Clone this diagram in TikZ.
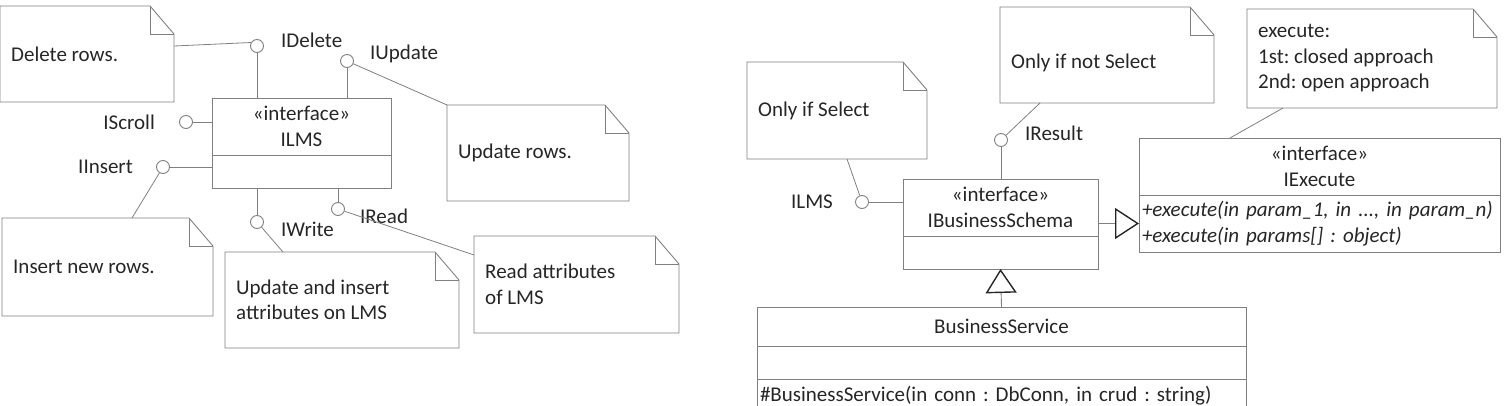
\documentclass[tikz,border=0pt]{standalone}
\usepackage{fontspec}
\setmainfont{Carlito}
\frenchspacing
\usetikzlibrary{arrows.meta, positioning}
\definecolor{umlline}{gray}{0.5}
\definecolor{umltext}{gray}{0.15}
\tikzset{
  classhead/.style = {draw=umlline, align=center, inner sep=0pt, outer sep=0pt,
                      minimum height=57pt, line width=0.9pt},
  compart/.style   = {draw=umlline, inner sep=0pt, outer sep=0pt,
                      minimum height=33pt, line width=0.9pt},
  opslist/.style   = {draw=umlline, align=left, inner sep=3pt, outer sep=0pt,
                      line width=0.9pt},
  lollipop/.style  = {draw=umlline, circle, minimum size=13pt, inner sep=0pt,
                      line width=0.9pt},
  iflabel/.style   = {inner sep=0pt},
  % notes: invisible body, outline drawn by \umlnote
  notebody/.style  = {inner sep=0pt, outer sep=0pt, anchor=north west},
  notetext/.style  = {inner sep=0pt, anchor=west, align=left},
  noteline/.style  = {draw=umlline, line width=0.9pt},
  link/.style      = {-, line width=0.8pt, umlline},
  realize/.style   = {-{Triangle[open, length=24pt, width=31pt, line width=1.4pt,
                      color=umltext]}, line width=0.9pt, umlline},
}
\newcommand{\umlnote}[6]{%
  \node[notebody, minimum width=#3, minimum height=#4] (#1) at #2 {};
  \draw[noteline] (#1.south west) -- (#1.north west) -- ([xshift=-24pt]#1.north east)
    -- ([yshift=-28pt]#1.north east) -- (#1.south east) -- cycle;
  \draw[noteline] ([xshift=-24pt]#1.north east) |- ([yshift=-28pt]#1.north east);
  \node[notetext, yshift=#5] (#1t) at ([xshift=11pt]#1.west) {#6};
}

\begin{document}
\begin{tikzpicture}[x=1pt, y=-1pt, font=\fontsize{21}{25.5}\selectfont, text=umltext]
\useasboundingbox (0,0) rectangle (1511,406);
\clip (0,0) rectangle (1511,406);

% ===== ILMS and its interfaces =====
\node[classhead, minimum width=179pt, anchor=north west] (ilms) at (212,98) {«interface»\\ILMS};
\node[compart, minimum width=179pt, below=0pt of ilms] (ilmsB) {};

\node[lollipop] (cDelete) at (257,46) {};
\node[lollipop] (cUpdate) at (347,61) {};
\node[lollipop] (cScroll) at (186,122) {};
\node[lollipop] (cInsert) at (163,167) {};
\node[lollipop] (cWrite)  at (257,222) {};
\node[lollipop] (cRead)   at (338,209) {};

\node[iflabel, right=17pt of cDelete, yshift=6pt]  (lDelete) {IDelete};
\node[iflabel, right=16pt of cUpdate, yshift=7pt]  (lUpdate) {IUpdate};
\node[iflabel, left=24pt of cScroll]               (lScroll) {IScroll};
\node[iflabel, left=23pt of cInsert]               (lInsert) {IInsert};
\node[iflabel, right=17pt of cWrite, yshift=-7pt]  (lWrite)  {IWrite};
\node[iflabel, right=15pt of cRead, yshift=-7pt]   (lRead)   {IRead};

\draw[link] (cDelete) -- (cDelete |- ilms.north);
\draw[link] (cUpdate) -- (cUpdate |- ilms.north);
\draw[link] (cScroll) -- (cScroll -| ilms.west);
\draw[link] (cInsert) -- (cInsert -| ilmsB.west);
\draw[link] (cWrite)  -- (cWrite |- ilmsB.south);
\draw[link] (cRead)   -- (cRead |- ilmsB.south);

\umlnote{nDelete}{(0,6)}{174pt}{96pt}{0pt}{Delete rows.}
\umlnote{nUpdate}{(447,105)}{182pt}{96pt}{0pt}{Update rows.}
\umlnote{nInsert}{(2,218)}{211pt}{98pt}{0pt}{Insert new rows.}
\umlnote{nUI}{(225,252)}{234pt}{96pt}{0pt}{Update and insert\\attributes on LMS}
\umlnote{nRead}{(474,236)}{205pt}{97pt}{0pt}{Read attributes\\of LMS}

\draw[link] ([yshift=8pt]nDelete.east) -- (cDelete.150);
\draw[link] (cUpdate) -- (nUpdate.north west);
\draw[link] (cInsert) -- ([xshift=130pt]nInsert.north west);
\draw[link] (cWrite)  -- ([xshift=58pt]nUI.north west);
\draw[link] (cRead)   -- ([yshift=-19pt]nRead.north west);

% ===== IBusinessSchema, IExecute, BusinessService =====
\node[classhead, minimum width=195pt, anchor=north west] (ibs) at (903,179) {«interface»\\IBusinessSchema};
\node[compart, minimum width=195pt, below=0pt of ibs] (ibsB) {};

\node[classhead, minimum width=361pt, anchor=north west] (iexec) at (1139,138) {«interface»\\IExecute};
\node[opslist, text width=355pt, minimum height=57pt, below=0pt of iexec] (iexecOps)
  {\textit{+execute(in param\textunderscore1, in ..., in param\textunderscore n)}\\\textit{+execute(in params[] : object)}};

\node[classhead, minimum width=489pt, minimum height=39pt, anchor=north west] (bserv) at (757,307) {BusinessService};
\node[compart, minimum width=489pt, below=0pt of bserv] (bservA) {};
\node[opslist, text width=483pt, minimum height=33pt, below=0pt of bservA] (bservOps)
  {\#BusinessService(in conn : DbConn, in crud : string)};

\node[lollipop] (cLMS)    at (862,202) {};
\node[lollipop] (cResult) at (1001,140) {};
\node[iflabel, left=22pt of cLMS]                  (lLMS)    {ILMS};
\node[iflabel, right=17pt of cResult, yshift=7pt]  (lResult) {IResult};

\draw[link] (cLMS) -- (cLMS -| ibs.west);
\draw[link] (cResult) -- (cResult |- ibs.north);

\umlnote{nSel}{(747,62)}{180pt}{97pt}{0pt}{Only if Select}
\umlnote{nNotSel}{(1000,7)}{214pt}{96pt}{-8pt}{Only if not Select}
\umlnote{nExec}{(1247,9)}{250pt}{99pt}{0pt}{execute:\\1st: closed approach\\2nd: open approach}

\draw[link] ([xshift=100pt]nSel.south west) -- (cLMS);
\draw[link] (cResult) -- ([xshift=40pt]nNotSel.south west);
\draw[link] ([xshift=36pt]nExec.south west) -- ([xshift=91pt]iexec.north west);

\draw[realize] (ibs.east |- iexecOps.west) -- (iexecOps.west);
\draw[realize] (bserv.north) -- (ibsB.south);

\end{tikzpicture}
\end{document}
